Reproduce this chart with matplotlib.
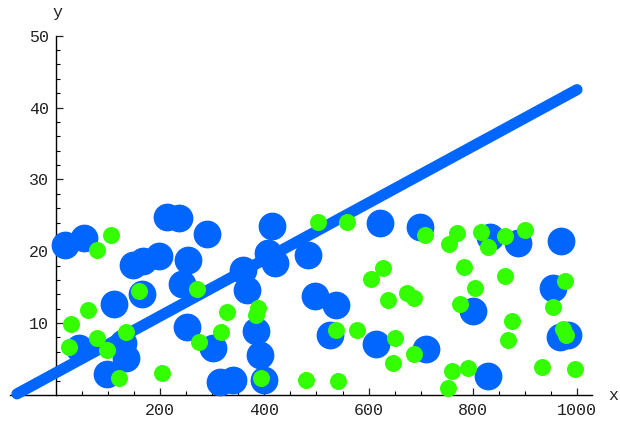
import numpy as np
import matplotlib
matplotlib.use("Agg")
import matplotlib.pyplot as plt
from matplotlib.ticker import FixedLocator

# big blue points
blue_x = [17, 54, 214, 236, 289, 148, 167, 197, 254, 241, 166, 112, 252, 302,
          44, 128, 134, 97, 414, 407, 420, 358, 366, 484, 497, 537, 526, 614,
          622, 384, 392, 400, 315, 340, 699, 833, 887, 969, 953, 801, 967, 983,
          710, 830]
blue_y = [20.9, 21.8, 24.8, 24.6, 22.4, 18.1, 18.7, 19.3, 18.8, 15.5, 14.0, 12.6,
          9.5, 6.5, 6.5, 7.2, 5.2, 2.9, 23.5, 19.7, 18.3, 17.4, 14.6, 19.5, 13.8,
          12.5, 8.3, 7.1, 23.9, 8.9, 5.5, 2.1, 1.85, 2.1, 23.4, 22.0, 21.1, 21.4,
          14.9, 11.7, 8.1, 8.3, 6.4, 2.6]

# small green points
green_x = [106, 78, 159, 62, 28, 24, 78, 97, 134, 121, 204, 271, 275,
           328, 317, 388, 384, 393, 480, 541, 502, 558, 537, 577, 627, 604, 638,
           651, 647, 673, 688, 687, 708, 755, 769, 816, 830, 862, 900, 784, 861,
           804, 775, 875, 868, 977, 953, 974, 978, 932, 997, 761, 791, 753]
green_y = [22.2, 20.2, 14.5, 11.8, 9.9, 6.7, 7.9, 6.2, 8.8, 2.3, 3.0, 14.8, 7.4,
           11.5, 8.7, 12.1, 11.1, 2.3, 2.1, 2.0, 24.1, 24.1, 9.1, 9.1, 17.7, 16.2,
           13.2, 7.9, 4.4, 14.2, 13.5, 5.7, 22.2, 21.0, 22.5, 22.7, 20.6, 22.1,
           23.0, 17.8, 16.6, 14.9, 12.6, 10.3, 7.7, 15.9, 12.3, 9.2, 8.3, 3.9,
           3.6, 3.3, 3.8, 1.0]

# fitted line
fit_x = [-75, 1000]
fit_y = [0.15, 42.5]

x_major = [200, 400, 600, 800, 1000]
y_major = [10, 20, 30, 40, 50]

blue = "#0066ff"
green = "#33ff00"
font = "Liberation Mono"

fig = plt.figure(figsize=(6.2, 4.25), dpi=100)
W, H = 620, 425
# axes spans pixel x 10..592, y 30..412
ax = fig.add_axes([10 / W, (H - 412) / H, 582 / W, 382 / H])
ax.set_xlim(-88.3, 1028.8)
ax.set_ylim(-2.37, 50.8)

ax.scatter(blue_x, blue_y, s=400, color=blue, linewidths=0, zorder=2, clip_on=False)
ax.plot(fit_x, fit_y, color=blue, lw=8, solid_capstyle="round", zorder=3)
ax.scatter(green_x, green_y, s=150, color=green, linewidths=0, zorder=4, clip_on=False)

for s in ["top", "right"]:
    ax.spines[s].set_visible(False)
ax.spines["left"].set_position(("data", 0))
ax.spines["bottom"].set_position(("data", 0))
ax.spines["left"].set_bounds(0, 50)
for s in ["left", "bottom"]:
    ax.spines[s].set_linewidth(1.0)
    ax.spines[s].set_zorder(1)

ax.xaxis.set_major_locator(FixedLocator(x_major))
ax.xaxis.set_minor_locator(FixedLocator([v for v in range(50, 1001, 50) if v % 200]))
ax.yaxis.set_major_locator(FixedLocator(y_major))
ax.yaxis.set_minor_locator(FixedLocator([v for v in range(2, 51, 2) if v % 10]))
ax.tick_params(axis="both", which="major", direction="in", length=5, width=0.9,
               labelsize=12, colors="#222222")
ax.tick_params(axis="both", which="minor", direction="in", length=3, width=0.8)
ax.tick_params(axis="x", pad=6)
ax.tick_params(axis="y", pad=5)
for lab in ax.get_xticklabels() + ax.get_yticklabels():
    lab.set_family(font)

fig.text(57 / W, 1 - 12 / H, "y", family=font, fontsize=12, color="#222222",
         ha="center", va="center")
fig.text(613 / W, 1 - 395 / H, "x", family=font, fontsize=12, color="#222222",
         ha="center", va="center")

fig.savefig("out.png", dpi=100)
